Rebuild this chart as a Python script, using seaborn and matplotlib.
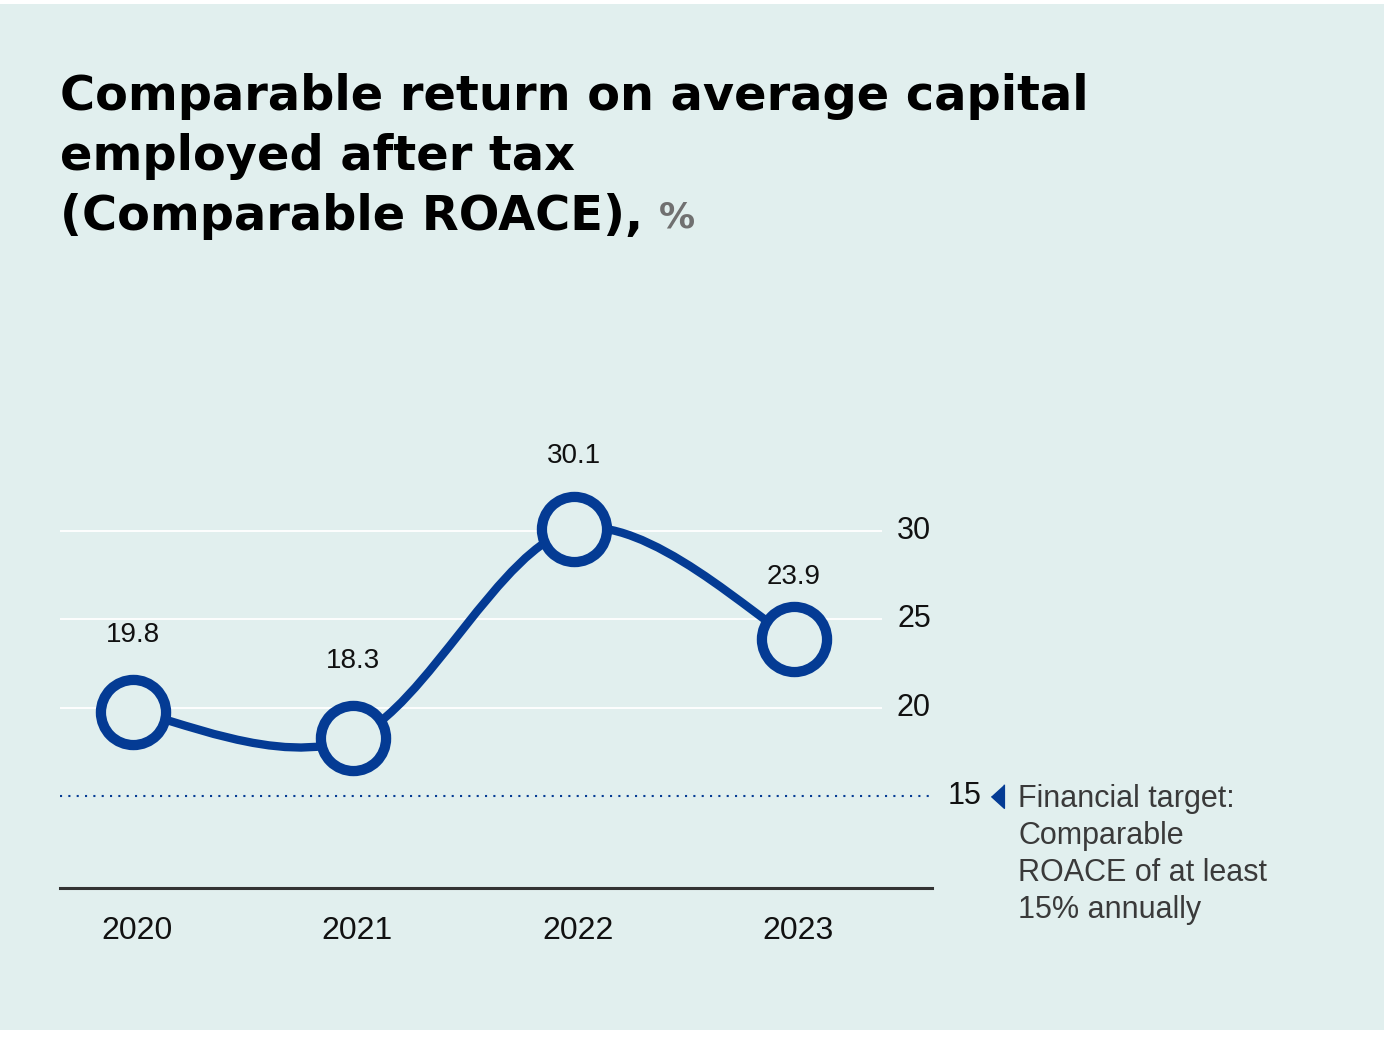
import numpy as np
import pandas as pd
import seaborn as sns
from matplotlib import pyplot as plt
from matplotlib.path import Path
from matplotlib.patches import PathPatch, Rectangle

# data
years = ['2020', '2021', '2022', '2023']
roace = [19.8, 18.3, 30.1, 23.9]
y_ticks = [20, 25, 30]
target = 15
target_note = 'Financial target:\nComparable\nROACE of at least\n15% annually'

BG = '#e1efee'
BLUE = '#043b94'
W, H = 1384, 1037

sns.set_theme(style='white')
plt.rcParams['font.family'] = ['Liberation Sans', 'DejaVu Sans']

df = pd.DataFrame({'x': np.arange(len(years)), 'roace': roace})

fig = plt.figure(figsize=(W / 100, H / 100), dpi=100, facecolor='white')
fig.patches.append(Rectangle((0, 7 / H), 1, (H - 11) / H, transform=fig.transFigure,
                             facecolor=BG, edgecolor='none', zorder=-10))

ax = fig.add_axes([60 / W, 1 - 888 / H, 872 / W, (888 - 442.5) / H])
ax.set_facecolor('none')
ax.set_xlim(-0.331, 3.626)
ax.set_ylim(9.83, 35)
for s in ['top', 'left', 'right']:
    ax.spines[s].set_visible(False)
ax.spines['bottom'].set_color('#333333')
ax.spines['bottom'].set_linewidth(2.2)
ax.set_xticks([])
ax.set_yticks([])

# white grid lines (stop before the tick labels)
ax.hlines(y_ticks, -0.331, 3.40, color='white', lw=1.3, zorder=1)
# target line
ax.hlines(target, -0.331, 3.626, color=BLUE, lw=1.5, linestyles=(0, (1, 3)), zorder=1)

# smooth line (cardinal spline through the points)
pts = list(zip(df['x'], df['roace']))
n = len(pts)
verts = [pts[0]]
codes = [Path.MOVETO]
for i in range(n - 1):
    p0 = pts[max(i - 1, 0)]
    p1 = pts[i]
    p2 = pts[i + 1]
    p3 = pts[min(i + 2, n - 1)]
    c1 = (p1[0] + (p2[0] - p0[0]) / 6, p1[1] + (p2[1] - p0[1]) / 6)
    c2 = (p2[0] - (p3[0] - p1[0]) / 6, p2[1] - (p3[1] - p1[1]) / 6)
    verts += [c1, c2, p2]
    codes += [Path.CURVE4] * 3
ax.add_patch(PathPatch(Path(verts, codes), facecolor='none', edgecolor=BLUE,
                       lw=6, capstyle='round', zorder=3))

sns.scatterplot(data=df, x='x', y='roace', s=2200, color=BG, edgecolor=BLUE,
                linewidth=7.4, zorder=4, ax=ax, legend=False, clip_on=False)
ax.set_xlabel('')
ax.set_ylabel('')

# value labels
label_off = [77, 77, 73, 62]
for xi, v, off in zip(df['x'], roace, label_off):
    ax.annotate(f'{v}', (xi, v), xytext=(0, off), textcoords='offset pixels',
                ha='center', va='center', fontsize=20, color='#111111')

# x tick labels
for xi, yr in zip(df['x'], years):
    ax.annotate(yr, (xi, 9.83), xytext=(4, -43), textcoords='offset pixels',
                ha='center', va='center', fontsize=23, color='#111111',
                annotation_clip=False)

# y tick labels on the right
for t in y_ticks:
    ax.annotate(str(t), (1, t), xycoords=('axes fraction', 'data'), xytext=(-1, 0),
                textcoords='offset pixels', ha='right', va='center', fontsize=22,
                color='#111111', annotation_clip=False)
ax.annotate(str(target), (1, target), xycoords=('axes fraction', 'data'), xytext=(16, 0),
            textcoords='offset pixels', ha='left', va='center', fontsize=22,
            color='#111111', annotation_clip=False)
tri = [(0.5, 1.0), (0.5, -1.0), (-0.6, 0.0)]
ax.plot([3.626 + 66 / 220.3], [target], marker=tri, markersize=17, color=BLUE,
        clip_on=False, zorder=5)
fig.text(1018 / W, 1 - 784 / H, target_note, ha='left', va='top', fontsize=22,
         color='#3a3a3a', linespacing=1.3, transform=fig.transFigure)

# title
title_lines = ['Comparable return on average capital', 'employed after tax',
               '(Comparable ROACE),']
tfont = ['DejaVu Sans']
for k, line in enumerate(title_lines):
    t = fig.text(60 / W, 1 - (110 + 60 * k) / H, line, ha='left', va='baseline',
                 fontsize=34.5, fontweight='bold', family=tfont, color='black')
fig.canvas.draw()
bb = t.get_window_extent()
fig.text((bb.x1 + 16) / W, 1 - 228 / H, '%', ha='left', va='baseline',
         fontsize=26, fontweight='bold', family=tfont, color='#707070')

plt.savefig('out.png', dpi=100, facecolor='white')
